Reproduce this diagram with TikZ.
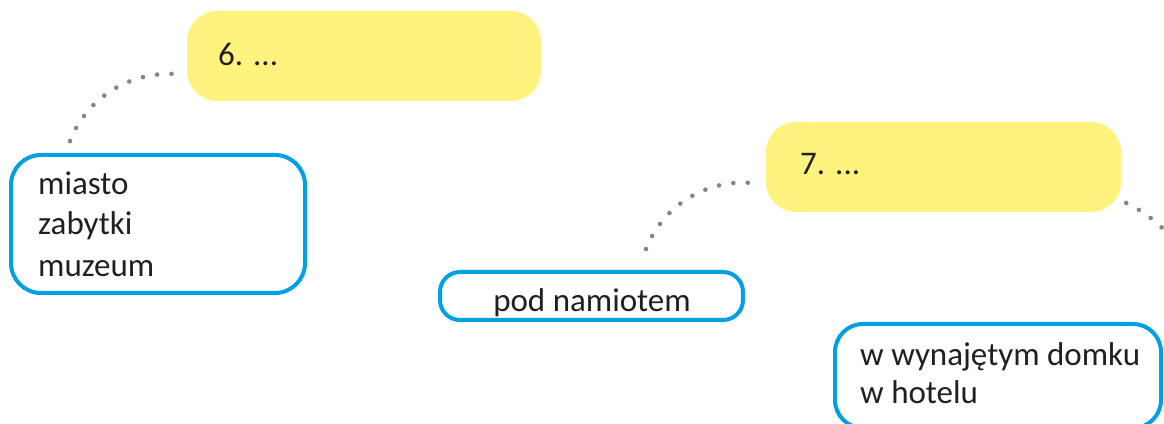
\documentclass[tikz,border=0pt]{standalone}
\usepackage{fontspec}
\setmainfont{Carlito}
\usetikzlibrary{calc}
\definecolor{boxblue}{RGB}{0,160,227}
\definecolor{noteyellow}{RGB}{255,243,128}
\definecolor{inkblack}{RGB}{35,31,32}
\definecolor{dotgray}{RGB}{133,133,135}
\tikzset{
  yellowbox/.style={fill=noteyellow, draw=none, rectangle, rounded corners=30pt, minimum width=354pt, minimum height=90pt, inner sep=0pt},
  bluebox/.style={draw=boxblue, line width=4pt, fill=white, rectangle, inner sep=0pt},
  label text/.style={text=inkblack, inner sep=0pt, font=\fontsize{33}{40}\selectfont},
  dotline/.style={draw=dotgray, line width=4.6pt, line cap=round, dash pattern=on 0pt off 14.4pt}
}
\begin{document}
\begin{tikzpicture}[x=1pt,y=1pt]
\clip (0,0) rectangle (1164,423);
\fill[white] (0,0) rectangle (1164,423);
% yellow boxes
\node[yellowbox] (y6) at (364,367) {};
\node[yellowbox, minimum width=355pt] (y7) at (943.5,256) {};
% blue boxes
\node[bluebox, rounded corners=30pt, minimum width=294pt, minimum height=138pt] (bA) at (158,199) {};
\node[bluebox, rounded corners=20pt, minimum width=303pt, minimum height=48pt] (bB) at (591.5,127) {};
\node[bluebox, rounded corners=28pt, minimum width=326pt, minimum height=104pt] (bC) at (998,47) {};
% texts
\node[label text, anchor=base west] (t6) at (218,357) {6. ...};
\node[label text, anchor=base west] (t7) at (800,248) {7. ...};
\node[label text, anchor=base west] (tA1) at (38,228) {miasto};
\node[label text, anchor=base west] (tA2) at (38,188) {zabytki};
\node[label text, anchor=base west] (tA3) at (38,146) {muzeum};
\node[label text, anchor=base] (tB) at (592,111) {pod namiotem};
\node[label text, anchor=base west] (tC1) at (860,58) {w wynajętym domku};
\node[label text, anchor=base west] (tC2) at (860,20) {w hotelu};
% dotted connectors
\coordinate (c3end) at (1200,140);
\draw[dotline] ($(bA.north west)+(61,12)$) .. controls (88,328) and (135,355) .. ($(y6.west)+(-2,-19)$);
\draw[dotline] ($(bB.north west)+(208,21)$) .. controls (664,220) and (711,247) .. ($(y7.west)+(-5,-17)$);
\draw[dotline] ($(y7.east)+(5,-36)$) .. controls (1150,209) and (1180,185) .. (c3end);
\end{tikzpicture}
\end{document}
